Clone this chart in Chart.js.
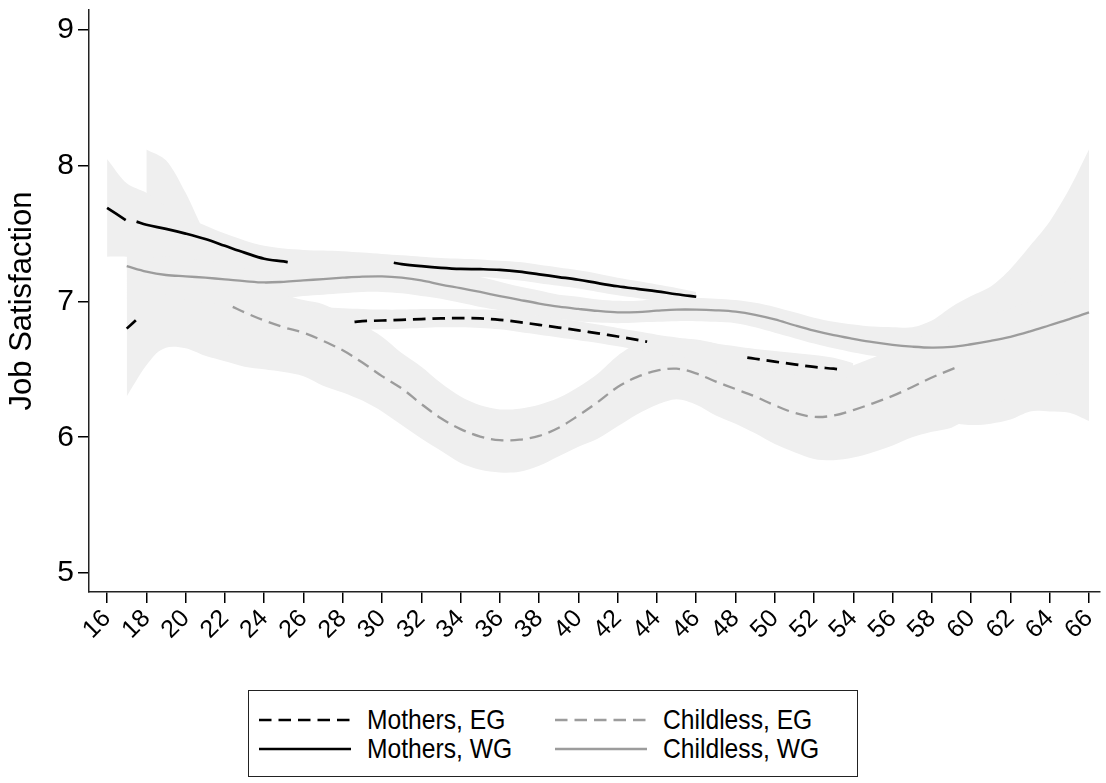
<!DOCTYPE html>
<html><head><meta charset="utf-8">
<script src="https://cdn.jsdelivr.net/npm/chart.js@4.4.0/dist/chart.umd.min.js"></script>
<style>
html,body{margin:0;padding:0;background:#fff;}
#wrap{position:relative;width:1106px;height:783px;overflow:hidden;}
#c{position:absolute;left:0;top:0;}
#legend{position:absolute;left:248px;top:690px;width:610px;height:87px;border:1.5px solid #222;box-sizing:border-box;font-family:"Liberation Sans",Arial,Helvetica,sans-serif;font-size:28px;color:#000;background:#fff;}
.it{position:absolute;height:30px;display:flex;align-items:center;white-space:nowrap;}
.it svg{margin-right:16px;flex:none;}
.it span{display:inline-block;transform:scaleX(0.88);transform-origin:left center;}
</style></head>
<body><div id="wrap"><canvas id="c" width="1106" height="783"></canvas>
<div id="legend"></div></div>
<script>
// ---------- DATA ----------
const xTicks = [16,18,20,22,24,26,28,30,32,34,36,38,40,42,44,46,48,50,52,54,56,58,60,62,64,66];
const yTicks = [5,6,7,8,9];
const seriesNames = ["Mothers, EG","Mothers, WG","Childless, EG","Childless, WG"];

// Mothers, WG (black solid) - null marks where the line is hidden in the picture
const motherWG_age = [16,16.95,17.2,17.5,18,19,20,21,22,23,24,25,25.2,28,30.6,31,32,33,34,35,36,37,38,39,40,41,42,43,44,45,46];
const motherWG_val = [7.69,7.60,null,7.588,7.565,7.535,7.50,7.46,7.41,7.36,7.315,7.295,7.29,null,7.285,7.275,7.26,7.248,7.24,7.238,7.233,7.22,7.20,7.18,7.16,7.135,7.112,7.093,7.075,7.053,7.035];

// Mothers, EG (black dashed)
const motherEG_age = [17,17.6,20,28.6,29,30,31,32,33,34,35,36,37,38,39,40,41,42,43,43.5,46,48.6,49,50,51,52,53,53.3];
const motherEG_val = [6.80,6.88,null,6.85,6.855,6.86,6.865,6.87,6.875,6.878,6.875,6.865,6.848,6.828,6.808,6.787,6.765,6.742,6.717,6.703,null,6.587,6.578,6.557,6.537,6.518,6.505,6.50];

// Childless, EG (grey dashed)
const childEG_age = [22.4,23,24,25,26,27,28,29,30,31,32,33,34,35,36,37,38,39,40,41,42,43,44,45,46,47,48,49,50,51,52,53,54,55,56,57,58,59,59.35];
const childEG_val = [6.96,6.92,6.86,6.81,6.77,6.71,6.64,6.55,6.45,6.36,6.245,6.14,6.06,6.005,5.978,5.982,6.01,6.07,6.16,6.26,6.37,6.445,6.49,6.505,6.47,6.41,6.355,6.30,6.235,6.18,6.15,6.16,6.20,6.25,6.305,6.37,6.44,6.50,6.52];

// Childless, WG (grey solid), ages 17..66
const childWG_age = [17,18,19,20,21,22,23,24,25,26,27,28,29,30,31,32,33,34,35,36,37,38,39,40,41,42,43,44,45,46,47,48,49,50,51,52,53,54,55,56,57,58,59,60,61,62,63,64,65,66];
const childWG_val = [7.26,7.22,7.195,7.185,7.175,7.163,7.15,7.14,7.145,7.155,7.165,7.175,7.183,7.185,7.175,7.155,7.125,7.098,7.07,7.04,7.012,6.985,6.962,6.945,6.93,6.92,6.922,6.932,6.94,6.94,6.935,6.925,6.902,6.868,6.825,6.785,6.752,6.725,6.70,6.68,6.667,6.66,6.665,6.685,6.71,6.74,6.78,6.825,6.87,6.92];

// Confidence bands
const bandMWG_age = [16,17,18,19,20,21,22,23,24,25,26,27,28,29,30,31,32,33,34,35,36,37,38,39,40,41,42,43,44,45,46];
const bandMWG_lo = [7.33,7.33,7.32,7.33,7.32,7.30,7.28,7.245,7.215,7.195,7.19,7.19,7.19,7.19,7.195,7.195,7.19,7.185,7.18,7.18,7.17,7.155,7.135,7.115,7.095,7.07,7.045,7.025,7.005,6.99,6.98];
const bandMWG_hi = [8.05,7.87,7.80,7.70,7.62,7.56,7.50,7.45,7.41,7.39,7.38,7.375,7.37,7.36,7.35,7.34,7.33,7.32,7.315,7.31,7.30,7.29,7.27,7.25,7.23,7.205,7.175,7.15,7.125,7.10,7.07];

const bandMEG_age = [17,18,19,20,21,22,23,24,25,26,27,28,29,30,31,32,33,34,35,36,37,38,39,40,41,42,43,44,45,46,47,48,49,50,51,52,53,54];
const bandMEG_lo = [6.30,6.53,6.68,6.71,6.73,6.75,6.76,6.77,6.775,6.78,6.78,6.785,6.79,6.795,6.80,6.805,6.81,6.81,6.805,6.795,6.775,6.755,6.735,6.715,6.695,6.67,6.645,6.62,6.595,6.57,6.545,6.52,6.50,6.48,6.46,6.44,6.42,6.45];
const bandMEG_hi = [7.32,7.15,7.05,7.01,6.99,6.98,6.975,6.97,6.97,6.97,6.96,6.95,6.945,6.94,6.94,6.945,6.945,6.945,6.94,6.935,6.915,6.895,6.875,6.855,6.83,6.805,6.78,6.755,6.735,6.715,6.69,6.67,6.65,6.635,6.62,6.605,6.585,6.545];

const bandCEG_age = [18,19,20,21,22,23,24,25,26,27,28,29,30,31,32,33,34,35,36,37,38,39,40,41,42,43,44,45,46,47,48,49,50,51,52,53,54,55,56,57,58,59,60,61,62,63,64,65,66];
const bandCEG_lo = [6.57,6.66,6.655,6.60,6.56,6.52,6.50,6.48,6.45,6.38,6.33,6.27,6.19,6.09,5.99,5.90,5.81,5.76,5.74,5.745,5.79,5.86,5.93,5.99,6.08,6.17,6.24,6.28,6.24,6.16,6.10,6.03,5.95,5.89,5.84,5.83,5.85,5.89,5.94,6.00,6.04,6.07,6.15,6.22,6.30,6.37,6.44,6.50,6.55];
const bandCEG_hi = [8.12,8.04,7.80,7.50,7.30,7.18,7.10,7.05,7.01,6.98,6.91,6.83,6.74,6.62,6.52,6.40,6.30,6.235,6.205,6.21,6.24,6.29,6.37,6.47,6.60,6.69,6.725,6.73,6.72,6.69,6.63,6.575,6.53,6.49,6.465,6.47,6.53,6.585,6.65,6.71,6.77,6.82,6.86,6.90,6.95,7.00,7.08,7.16,7.25];

const bandCWG_age = childWG_age;
const bandCWG_lo = [6.9,6.9,6.92,6.95,6.97,6.98,7.0,7.01,7.02,7.04,7.05,7.06,7.07,7.07,7.06,7.04,7.02,6.99,6.96,6.935,6.91,6.89,6.87,6.855,6.845,6.84,6.845,6.85,6.855,6.855,6.85,6.84,6.81,6.77,6.73,6.69,6.655,6.625,6.60,6.58,6.50,6.30,6.12,6.09,6.10,6.13,6.19,6.19,6.18,6.12];
const bandCWG_hi = [7.7,7.6,7.5,7.45,7.40,7.36,7.32,7.29,7.28,7.28,7.29,7.30,7.30,7.30,7.29,7.27,7.24,7.21,7.18,7.145,7.11,7.08,7.05,7.035,7.015,7.005,7.005,7.02,7.025,7.025,7.02,7.01,6.99,6.96,6.92,6.88,6.85,6.83,6.815,6.81,6.81,6.86,6.96,7.04,7.11,7.24,7.41,7.59,7.83,8.12];

// ---------- STYLES ----------
const FONT = '"Liberation Sans", Arial, Helvetica, sans-serif';
const BAND = '#efefef';
const BLACK = '#000000';
const GREY = '#9c9c9c';
const DASH = [12.5, 7];

function pts(ax, vals){ return ax.map((a,i)=>({x:a, y:vals[i]})); }

const lineStyles = [
  {color:BLACK, dash:DASH, width:2.7},
  {color:BLACK, dash:[], width:2.7},
  {color:GREY, dash:DASH, width:2.3},
  {color:GREY, dash:[], width:2.3}
];
const lineData = [
  pts(motherEG_age, motherEG_val),
  pts(motherWG_age, motherWG_val),
  pts(childEG_age, childEG_val),
  pts(childWG_age, childWG_val)
];
const bands = [
  [bandMEG_age, bandMEG_lo, bandMEG_hi],
  [bandMWG_age, bandMWG_lo, bandMWG_hi],
  [bandCEG_age, bandCEG_lo, bandCEG_hi],
  [bandCWG_age, bandCWG_lo, bandCWG_hi]
];

const datasets = [];
lineData.forEach((d,i)=>{
  datasets.push({label:seriesNames[i], data:d, borderColor:lineStyles[i].color, borderDash:lineStyles[i].dash,
    borderWidth:lineStyles[i].width, pointRadius:0, fill:false, tension:0.35, spanGaps:false, order:i});
});
bands.forEach((b,i)=>{
  datasets.push({label:'lo'+i, data:pts(b[0],b[1]), borderWidth:0, borderColor:'rgba(0,0,0,0)', pointRadius:0, fill:false, tension:0.3, order:10});
  datasets.push({label:'hi'+i, data:pts(b[0],b[2]), borderWidth:0, borderColor:'rgba(0,0,0,0)', pointRadius:0, fill:'-1', backgroundColor:BAND, tension:0.3, order:10});
});

new Chart(document.getElementById('c'), {
  type:'line',
  data:{datasets},
  options:{
    responsive:false, animation:false, devicePixelRatio:1,
    layout:{padding:{left:0, top:10, right:6, bottom:131}},
    plugins:{legend:{display:false}, tooltip:{enabled:false}, filler:{drawTime:'beforeDatasetsDraw', propagate:false}},
    scales:{
      x:{type:'linear', min:15.08, max:66.56,
        afterBuildTicks:(s)=>{ s.ticks = xTicks.map(v=>({value:v})); },
        afterFit:(s)=>{ s.height = 60; s.paddingLeft=0; s.paddingRight=0; },
        grid:{drawOnChartArea:false, drawTicks:true, tickLength:11, color:BLACK, lineWidth:1.5},
        border:{display:true, color:'#222', width:1.5},
        ticks:{autoSkip:false, maxRotation:45, minRotation:45, color:BLACK, padding:1, font:{family:FONT, size:25}, callback:(v)=>String(v)}
      },
      y:{type:'linear', min:4.86, max:9.147,
        afterBuildTicks:(s)=>{ s.ticks = yTicks.map(v=>({value:v})); },
        afterFit:(s)=>{ s.width = 89; s.paddingTop=0; s.paddingBottom=0; },
        grid:{drawOnChartArea:false, drawTicks:true, tickLength:11, color:BLACK, lineWidth:1.5},
        border:{display:true, color:'#222', width:1.5},
        title:{display:true, text:'Job Satisfaction', color:BLACK, font:{family:FONT, size:31}, padding:{top:4, bottom:0}},
        ticks:{color:BLACK, padding:4, font:{family:FONT, size:30}, callback:(v)=>String(v)}
      }
    }
  }
});

// ---------- HTML legend ----------
const legend = document.getElementById('legend');
const legPos = [[10,14],[10,43],[306,14],[306,43]];
seriesNames.forEach((name,i)=>{
  const st = lineStyles[i];
  const div = document.createElement('div');
  div.className='it';
  div.style.left = legPos[i][0]+'px';
  div.style.top = legPos[i][1]+'px';
  const dash = st.dash.length ? `stroke-dasharray="${st.dash.join(' ')}"` : '';
  div.innerHTML = `<svg width="92" height="10"><line x1="0" y1="5" x2="92" y2="5" stroke="${st.color}" stroke-width="${st.width}" ${dash}/></svg><span>${name}</span>`;
  legend.appendChild(div);
});
</script></body></html>
